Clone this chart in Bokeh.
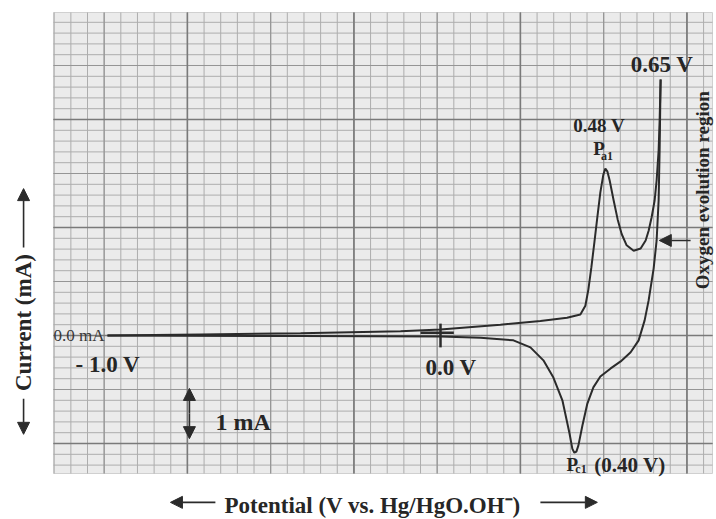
import numpy as np
from bokeh.plotting import figure
from bokeh.models import Label, Arrow, NormalHead, Range1d
from bokeh.embed import file_html
from bokeh.resources import INLINE

# ---------------- data ----------------
# anodic (forward) sweep: -1.0 V -> 0.65 V vertex
anodic_potential = [-1.00, -0.72, -0.42, -0.12, 0.00, 0.18, 0.30, 0.38, 0.42, 0.435,
                    0.444, 0.453, 0.462, 0.471, 0.480, 0.489, 0.495, 0.501, 0.508,
                    0.520, 0.532, 0.544, 0.559, 0.580, 0.601, 0.616, 0.625, 0.634,
                    0.643, 0.649, 0.655, 0.658, 0.661]
anodic_current = [0.00, 0.02, 0.04, 0.08, 0.11, 0.20, 0.27, 0.33, 0.39, 0.55,
                  0.85, 1.26, 1.72, 2.19, 2.65, 2.98, 3.09, 3.04, 2.87,
                  2.50, 2.15, 1.88, 1.67, 1.57, 1.61, 1.76, 1.94, 2.19,
                  2.50, 2.87, 3.43, 3.98, 4.74]
# cathodic (reverse) sweep: 0.65 V vertex -> -1.0 V
cathodic_potential = [0.661, 0.658, 0.655, 0.649, 0.640, 0.625, 0.613, 0.595, 0.571,
                      0.541, 0.511, 0.480, 0.459, 0.441, 0.426, 0.414, 0.408, 0.402,
                      0.396, 0.387, 0.366, 0.339, 0.309, 0.270, 0.219, 0.120, 0.00,
                      -0.42, -1.00]
cathodic_current = [4.74, 3.43, 2.50, 1.76, 1.24, 0.65, 0.28, -0.09, -0.31,
                    -0.48, -0.61, -0.76, -0.96, -1.26, -1.67, -2.04, -2.15, -2.17,
                    -2.10, -1.80, -1.20, -0.78, -0.46, -0.22, -0.09, -0.04, -0.02,
                    -0.01, 0.00]

zero_potential = 0.0        # 0.0 V reference mark
zero_current = 0.0          # 0.0 mA

# ---------------- figure (frame = whole page, chart-paper drawn inside) ----------------
FX0, FX1 = -1.3213, 0.8288       # whole canvas in data units
FY0, FY1 = -3.4074, 6.2037
PX0, PX1 = -1.1622, 0.8168       # chart paper extent
PY0, PY1 = -2.5556, 5.9815

p = figure(width=716, height=519, x_range=Range1d(FX0, FX1), y_range=Range1d(FY0, FY1),
           x_axis_type=None, y_axis_type=None,
           output_backend="svg", toolbar_location=None,
           min_border_left=0, min_border_right=0, min_border_top=0, min_border_bottom=0)
p.background_fill_color = "white"
p.border_fill_color = "white"
p.outline_line_color = None

# chart paper
p.quad(left=[PX0], right=[PX1], bottom=[PY0], top=[PY1],
       fill_color="#ebebeb", line_color="#d0d0d0", line_width=1)

vx_origin, vx_step = -0.26, 0.05      # vertical paper lines
hy_origin, hy_step = 0.0, 0.2         # horizontal paper lines


def ticks(origin, step, lo, hi, every=1):
    k0 = int(np.ceil((lo - origin) / step + 1e-6))
    k1 = int(np.floor((hi - origin) / step - 1e-6))
    return [round(origin + k * step, 4) for k in range(k0, k1 + 1) if k % every == 0]


for every, color, width in [(1, "#adadad", 1.0), (5, "#959595", 1.2), (10, "#7a7a7a", 1.5)]:
    xs = ticks(vx_origin, vx_step, PX0, PX1, every)
    p.segment(x0=xs, y0=[PY0] * len(xs), x1=xs, y1=[PY1] * len(xs),
              line_color=color, line_width=width)
    ys = ticks(hy_origin, hy_step, PY0, PY1, every)
    p.segment(x0=[PX0] * len(ys), y0=ys, x1=[PX1] * len(ys), y1=ys,
              line_color=color, line_width=width)

# curve
curve_color = "#2b2b2b"
p.line(anodic_potential, anodic_current, line_color=curve_color, line_width=2)
p.line(cathodic_potential, cathodic_current, line_color=curve_color, line_width=2)

# 0.0 V cross mark
p.segment(x0=[zero_potential], y0=[zero_current + 0.22], x1=[zero_potential], y1=[zero_current - 0.22],
          line_color=curve_color, line_width=2.5)
p.segment(x0=[zero_potential - 0.06], y0=[zero_current + 0.05], x1=[zero_potential + 0.04],
          y1=[zero_current + 0.05], line_color=curve_color, line_width=2.5)

SERIF = "Liberation Serif"
TXT = "#262626"
DY = 0.15   # baseline correction for alphabetic labels


def lab(x, y, text, size, style="bold", color=TXT, align="left", baseline="alphabetic", angle=0):
    if baseline == "alphabetic":
        y = y + DY
    p.add_layout(Label(x=x, y=y, text=text, text_font=SERIF, text_font_size=f"{size}px",
                       text_font_style=style, text_color=color, text_align=align,
                       text_baseline=baseline, angle=angle))


lab(-1.162, 0.0, "0.0 mA", 17, style="normal", color="#383838", baseline="middle")
lab(-1.096, -0.685, "- 1.0 V", 23)
lab(-0.045, -0.74, "0.0 V", 23)
lab(-0.676, -1.76, "1 mA", 24)
lab(0.571, 4.87, "0.65 V", 23)
lab(0.399, 3.74, "0.48 V", 19)
lab(0.459, 3.31, "P", 19)
lab(0.482, 3.18, "a1", 12)
lab(0.378, -2.53, "P", 19)
lab(0.405, -2.63, "c1", 12)
lab(0.462, -2.55, "(0.40 V)", 21)
lab(0.787, 2.69, "Oxygen evolution region", 19, align="center", baseline="middle", angle=np.pi / 2)
lab(-1.252, 0.24, "Current (mA)", 23, align="center", baseline="middle", angle=np.pi / 2)
lab(-0.204, -3.296, "Potential (V vs. Hg/HgO.OH\u207b)", 23, align="center")

# arrows
AC = "#2b2b2b"


def arrow(xs, ys, xe, ye, size=12):
    p.add_layout(Arrow(end=NormalHead(size=size, fill_color=AC, line_color=AC), start=None,
                       x_start=xs, y_start=ys, x_end=xe, y_end=ye,
                       line_color=AC, line_width=1.6))


arrow(-0.754, -1.445, -0.754, -0.98)
arrow(-0.754, -1.445, -0.754, -1.91)
arrow(0.751, 1.76, 0.657, 1.76)
arrow(-1.252, 1.63, -1.252, 2.72)
arrow(-1.252, -1.17, -1.252, -1.83)
arrow(-0.676, -3.09, -0.811, -3.09)
arrow(0.300, -3.09, 0.471, -3.09)

open("out.html", "w").write(file_html(p, INLINE))
